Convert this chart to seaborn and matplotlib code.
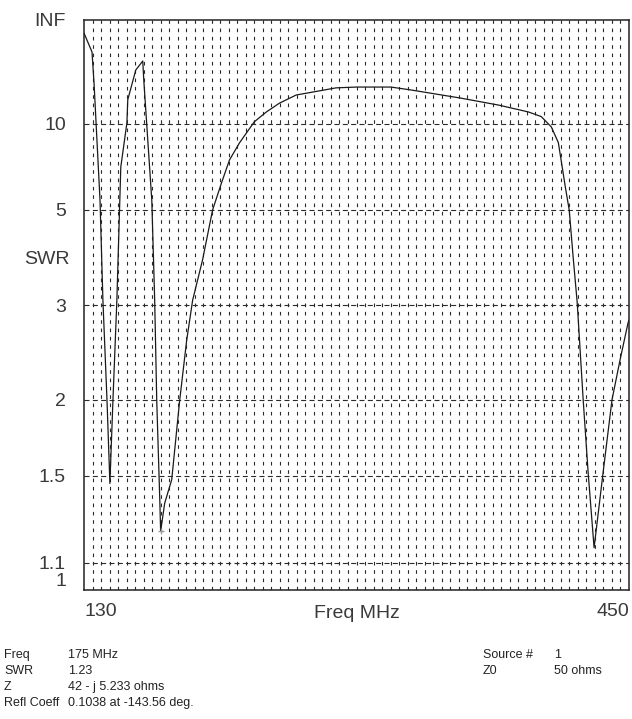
import numpy as np
import pandas as pd
import matplotlib
matplotlib.use("Agg")
import matplotlib.pyplot as plt
import seaborn as sns

# SWR sweep (MHz, SWR)
freq_mhz = [130, 134.7, 135.9, 139.4, 141.1, 143.5, 145.2, 147.0, 149.3, 151.6,
            155.2, 155.7, 160.4, 164.5, 165.1, 169.8, 171.5, 172.7, 174.5, 175.0,
            177.4, 181.5, 186.2, 190.3, 193.8, 199.6, 205.5, 210.7, 215.4, 221.3,
            230.0, 237.1, 244.7, 254.6, 264.0, 278.0, 290.0, 310.2, 321.9, 351.1,
            373.4, 390.9, 398.5, 404.4, 408.5, 410.2, 412.6, 414.9, 417.2, 419.6,
            423.1, 426.0, 429.5, 434.8, 440.0, 444.7, 449.4, 450.0]
swr = [86, 34.7, 17, 5.33, 3.07, 2.0, 1.46, 2.0, 3.07, 6.75,
       10.1, 13.3, 21.8, 26.8, 18, 5.33, 3.07, 2.0, 1.375, 1.23,
       1.36, 1.48, 2.0, 2.56, 3.07, 3.75, 5.0, 5.99, 7.14, 8.28,
       10.2, 11.4, 12.7, 14.2, 14.8, 15.8, 16.0, 16.0, 15.3, 13.6,
       12.4, 11.4, 10.8, 9.66, 8.3, 7.1, 5.83, 5.0, 3.81, 3.03,
       2.0, 1.52, 1.16, 1.52, 2.0, 2.35, 2.76, 2.8]

swr_grid = [1.1, 1.5, 2, 3, 5, 10]
swr_ticks = [1, 1.1, 1.5, 2, 3, 5, 10]
swr_tick_labels = ['1', '1.1', '1.5', '2', '3', '5', '10', 'INF']
freq_grid = list(range(135, 450, 5))

marker_freq = 175
marker_swr = 1.23

info_left = [('Freq', '175 MHz'),
             ('SWR', '1.23'),
             ('Z', '42 - j 5.233 ohms'),
             ('Refl Coeff', '0.1038 at -143.56 deg.')]
info_right = [('Source #', '1'),
              ('Z0', '50 ohms')]


def refl(s):
    # SWR -> magnitude of reflection coefficient (the chart's vertical scale)
    s = np.asarray(s, dtype=float)
    return (s - 1) / (s + 1)


df = pd.DataFrame({'freq': freq_mhz, 'gamma': refl(swr)})

sns.set_style('white')
plt.rcParams['font.family'] = ['Liberation Sans', 'DejaVu Sans']
plt.rcParams['lines.scale_dashes'] = False

W, H = 632, 719
fig = plt.figure(figsize=(W / 100, H / 100), dpi=100)
ax = fig.add_axes([84 / W, 1 - 590 / H, (629 - 84) / W, 570 / H])

# grid: dotted verticals every 5 MHz, dashed horizontals at the SWR marks
for f in freq_grid:
    ax.axvline(f, color='#2a2a2a', lw=0.8, dashes=(2.6, 3.4), zorder=1)
for s in swr_grid:
    ax.axhline(refl(s), color='#2a2a2a', lw=0.8, dashes=(3.6, 2.4), zorder=1)

sns.lineplot(data=df, x='freq', y='gamma', ax=ax, color='#1a1a1a',
             lw=0.9, sort=False, estimator=None, zorder=3)
ax.plot([marker_freq], [refl(marker_swr)], marker='+', ms=5, mew=1,
        color='#9a9a9a', zorder=4)

ax.set_xlim(130, 450)
ax.set_ylim(0, 1)

txt = '#3a3a3a'
ax.set_yticks(list(refl(swr_ticks)) + [1.0])
ax.set_yticklabels(swr_tick_labels, fontsize=14, color=txt)
ax.tick_params(axis='y', length=0, pad=13)
ax.yaxis.get_ticklabels()[0].set_va('bottom')

ax.set_xticks([130, 450])
ax.set_xticklabels(['130', '450'], fontsize=14, color=txt)
ax.tick_params(axis='x', length=0, pad=9)
xl = ax.get_xticklabels()
xl[0].set_ha('left')
xl[1].set_ha('right')
ax.set_xlabel('')
ax.set_ylabel('')

ax.text(0.5, -0.027, 'Freq MHz', transform=ax.transAxes, ha='center',
        va='top', fontsize=14, color=txt)
fig.text(47 / W, 1 - 260 / H, 'SWR', ha='center', va='center',
         fontsize=14, color=txt)

for side in ['left', 'right', 'top', 'bottom']:
    ax.spines[side].set_visible(True)
    ax.spines[side].set_color('#222222')
    ax.spines[side].set_linewidth(1.1)

# readout block under the chart
for i, (k, v) in enumerate(info_left):
    y = 1 - (655 + 16 * i) / H
    fig.text(4 / W, y, k, fontsize=9, va='center', color='#222222')
    fig.text(68 / W, y, v, fontsize=9, va='center', color='#222222')
for i, (k, v) in enumerate(info_right):
    y = 1 - (655 + 16 * i) / H
    fig.text(483 / W, y, k, fontsize=9, va='center', color='#222222')
    fig.text(554 / W, y, v, fontsize=9, va='center', color='#222222')

fig.savefig('out.png', dpi=100, facecolor='white')
